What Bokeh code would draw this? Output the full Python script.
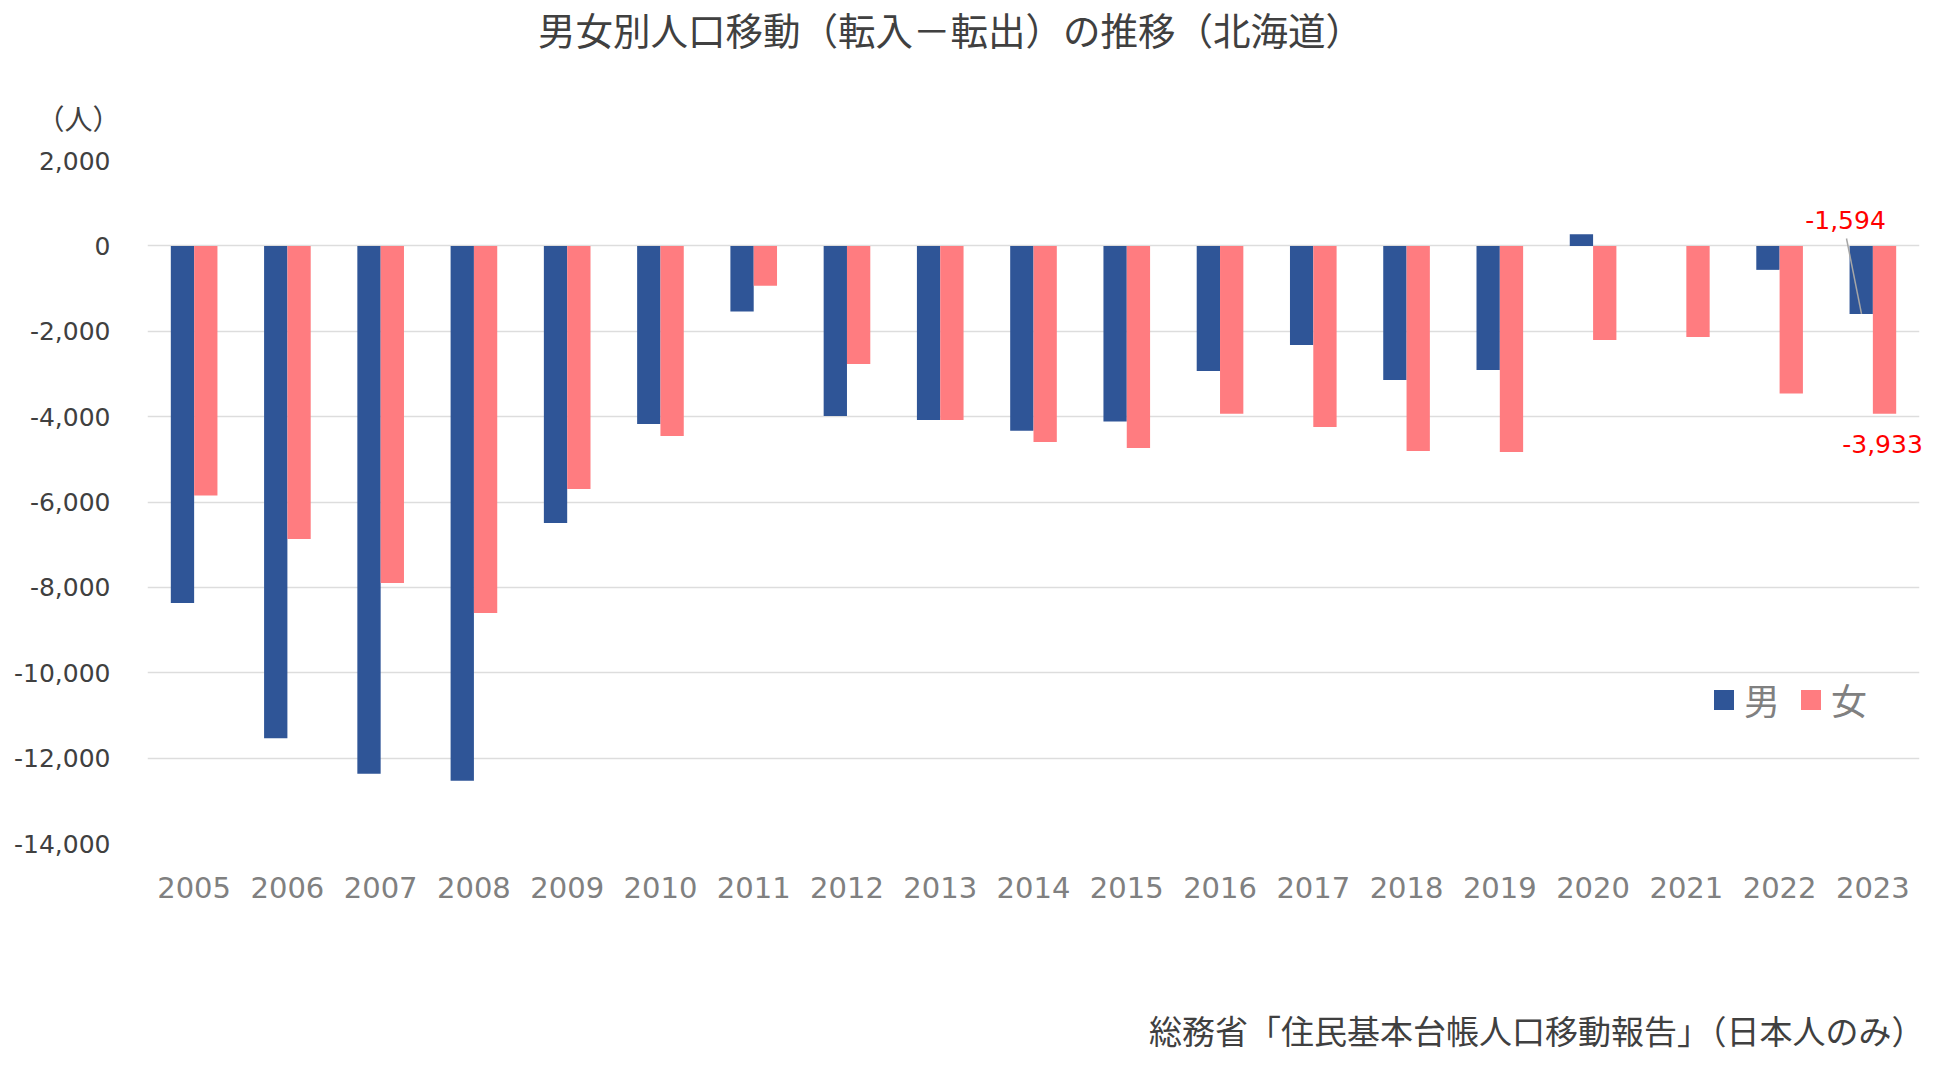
from bokeh.plotting import figure
from bokeh.models import (FactorRange, Range1d, FixedTicker, NumeralTickFormatter,
                          Legend, LegendItem, Label, ColumnDataSource)
from bokeh.transform import dodge
from bokeh.embed import file_html
from bokeh.resources import INLINE

years = [str(y) for y in range(2005, 2024)]
male = [-8365, -11532, -12366, -12530, -6493, -4175, -1539, -3984, -4078, -4328,
        -4117, -2930, -2320, -3141, -2906, 275, 0, -562, -1594]
female = [-5845, -6867, -7897, -8599, -5697, -4453, -937, -2766, -4078, -4594,
          -4734, -3935, -4242, -4805, -4828, -2203, -2133, -3461, -3933]
y_ticks = list(range(-14000, 2001, 2000))
title_text = "男女別人口移動（転入－転出）の推移（北海道）"
unit_text = "（人）"
source_text = "総務省「住民基本台帳人口移動報告」（日本人のみ）"
series_names = ["男", "女"]

W, H = 1934, 1057
FL, FT, FW, FH = 147, 160, 1772, 683
YMIN, YMAX = -14000, 2000

JP = "Noto Sans CJK JP"
NUM = "DejaVu Sans"

def dx(px):
    return (px - FL) / FW * len(years)

def dy(py):
    return YMAX - (py - FT) * (YMAX - YMIN) / FH

src = ColumnDataSource(dict(year=years, male=male, female=female))

p = figure(width=W, height=H, x_range=FactorRange(*years, range_padding=0),
           y_range=Range1d(YMIN, YMAX), output_backend="svg", toolbar_location=None,
           min_border_left=FL, min_border_top=FT, min_border_right=W - FL - FW,
           min_border_bottom=H - FT - FH)
p.outline_line_color = None
p.background_fill_color = "white"

r1 = p.vbar(x=dodge("year", -0.125, range=p.x_range), top="male", width=0.25,
            source=src, color="#2F5597", line_color=None)
r2 = p.vbar(x=dodge("year", 0.125, range=p.x_range), top="female", width=0.25,
            source=src, color="#FF7C80", line_color=None)

p.xgrid.grid_line_color = None
p.ygrid.grid_line_color = "#dddddd"
p.ygrid.grid_line_width = 1.5
p.ygrid.level = "underlay"

p.yaxis.ticker = FixedTicker(ticks=y_ticks)
p.yaxis.formatter = NumeralTickFormatter(format="0,0")
p.yaxis.axis_line_color = None
p.yaxis.major_tick_line_color = None
p.yaxis.minor_tick_line_color = None
p.yaxis.major_label_text_font = NUM
p.yaxis.major_label_text_font_size = "25px"
p.yaxis.major_label_text_color = "#404040"
p.yaxis.major_label_standoff = 31

p.xaxis.axis_line_color = None
p.xaxis.major_tick_line_color = None
p.xaxis.major_label_text_font = NUM
p.xaxis.major_label_text_font_size = "29px"
p.xaxis.major_label_text_color = "#808080"
p.xaxis.major_label_standoff = 27

legend = Legend(items=[LegendItem(label=series_names[0], renderers=[r1]),
                       LegendItem(label=series_names[1], renderers=[r2])],
                location=(1564, 118), orientation="horizontal",
                glyph_width=25, glyph_height=25, label_standoff=8, spacing=18,
                padding=0, margin=0, border_line_color=None, background_fill_alpha=0,
                label_text_font=JP, label_text_font_size="36px", label_text_color="#808080",
                label_height=20)
p.add_layout(legend, "center")

p.add_layout(Label(x=dx(950), y=dy(28), text=title_text, text_font=JP,
                   text_font_size="37.5px", text_color="#404040",
                   text_align="center", text_baseline="middle"), "above")
p.add_layout(Label(x=dx(78), y=dy(117), text=unit_text, text_font=JP,
                   text_font_size="28px", text_color="#404040",
                   text_align="center", text_baseline="middle"), "above")
p.add_layout(Label(x=dx(1924), y=dy(1029), text=source_text, text_font=JP,
                   text_font_size="33px", text_color="#404040",
                   text_align="right", text_baseline="middle"), "below")

p.add_layout(Label(x=dx(1845), y=dy(219), text=f"{male[-1]:,}", text_font=NUM,
                   text_font_size="25px", text_color="#FF0000",
                   text_align="center", text_baseline="middle"))
p.add_layout(Label(x=dx(1882), y=dy(443), text=f"{female[-1]:,}", text_font=NUM,
                   text_font_size="25px", text_color="#FF0000",
                   text_align="center", text_baseline="middle"), "below")
p.segment(x0=[dx(1846)], y0=[dy(238)], x1=[dx(1861)], y1=[male[-1]],
          line_color="#a6a6a6", line_width=1.5)

open("out.html", "w").write(file_html(p, INLINE))
